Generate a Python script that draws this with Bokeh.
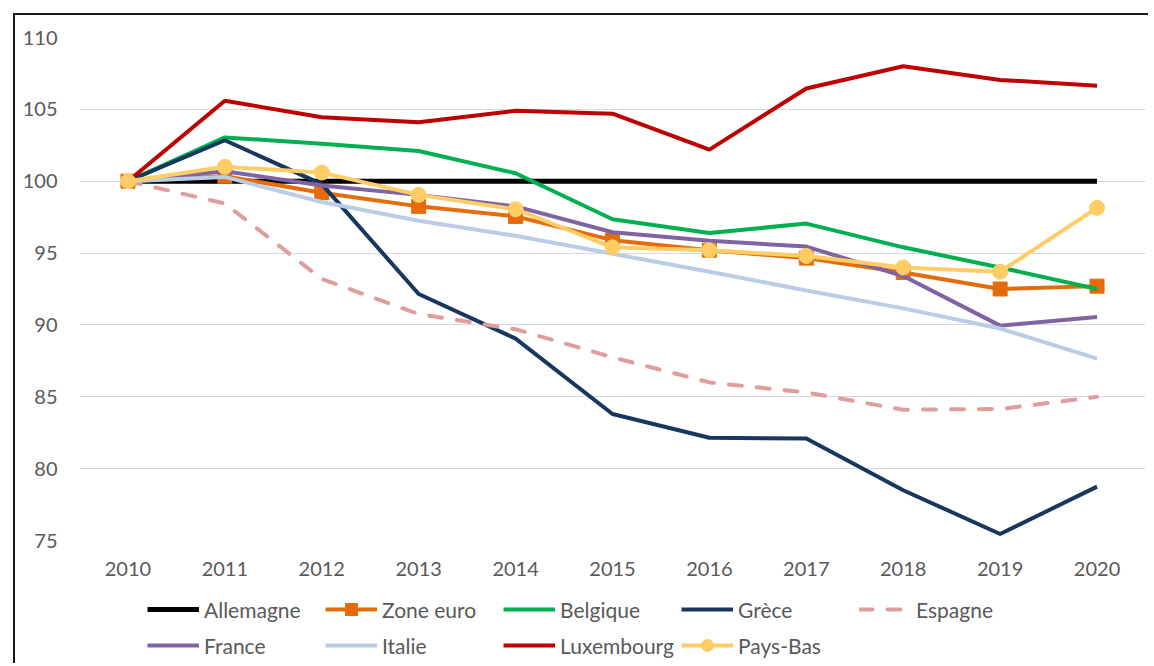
from bokeh.plotting import figure
from bokeh.models import Legend, LegendItem, FixedTicker
from bokeh.layouts import column
from bokeh.embed import file_html
from bokeh.resources import INLINE

years = ["2010", "2011", "2012", "2013", "2014", "2015", "2016", "2017", "2018", "2019", "2020"]

allemagne = [100, 100, 100, 100, 100, 100, 100, 100, 100, 100, 100]
zone_euro = [100, 100.35, 99.2, 98.25, 97.55, 95.9, 95.2, 94.65, 93.65, 92.5, 92.7]
belgique = [100, 103.05, 102.6, 102.1, 100.55, 97.35, 96.4, 97.05, 95.4, 94.0, 92.5]
grece = [100, 102.85, 99.8, 92.15, 89.05, 83.8, 82.15, 82.1, 78.5, 75.45, 78.75]
espagne = [100, 98.45, 93.2, 90.75, 89.7, 87.75, 86.0, 85.3, 84.1, 84.15, 85.0]
france = [100, 100.7, 99.7, 99.05, 98.25, 96.45, 95.85, 95.45, 93.4, 89.95, 90.55]
italie = [100, 100.3, 98.55, 97.25, 96.2, 94.95, 93.7, 92.4, 91.15, 89.75, 87.65]
luxembourg = [100, 105.6, 104.45, 104.1, 104.9, 104.7, 102.2, 106.45, 108.0, 107.05, 106.65]
pays_bas = [100, 101.0, 100.6, 99.05, 98.05, 95.4, 95.2, 94.8, 94.0, 93.7, 98.15]

y_ticks = [75, 80, 85, 90, 95, 100, 105, 110]

FONT = "Lato"
TXT = "#595959"
FRAME = "#1a1a1a"

# (label, values, colour, width, dash, marker, marker size)
series = [
    ("Allemagne", allemagne, "#000000", 5, "solid", None, 0),
    ("Zone euro", zone_euro, "#E46C0A", 4, "solid", "square", 14),
    ("Belgique", belgique, "#00B050", 4, "solid", None, 0),
    ("Grèce", grece, "#17375E", 4, "solid", None, 0),
    ("Espagne", espagne, "#DF9E9E", 4, "13 15", None, 0),
    ("France", france, "#8064A2", 4, "solid", None, 0),
    ("Italie", italie, "#B9CDE5", 4, "solid", None, 0),
    ("Luxembourg", luxembourg, "#C00000", 4, "solid", None, 0),
    ("Pays-Bas", pays_bas, "#FFCC66", 4, "solid", "circle", 15),
]

p = figure(
    x_range=years, y_range=(75, 110),
    width=1148, height=589,
    output_backend="svg", toolbar_location=None,
    min_border_left=79, min_border_right=3, min_border_top=37, min_border_bottom=49,
    background_fill_color="white", border_fill_color=None,
    styles={"box-shadow": f"inset 13px 13px 0 0 #ffffff, inset 15px 15px 0 0 {FRAME}"},
)
p.outline_line_color = None
p.xgrid.grid_line_color = None
p.ygrid.grid_line_color = "#D9D9D9"
p.ygrid.grid_line_width = 1
p.yaxis.ticker = FixedTicker(ticks=y_ticks)
for ax in (p.xaxis, p.yaxis):
    ax.axis_line_color = None
    ax.major_tick_line_color = None
    ax.minor_tick_line_color = None
    ax.major_label_text_font = FONT
    ax.major_label_text_font_size = "20px"
    ax.major_label_text_color = TXT
p.xaxis.major_label_standoff = 15
p.yaxis.major_label_standoff = 16

# legend strip below the chart (own canvas, so the legend is not clipped)
lg = figure(
    x_range=years, y_range=(75, 110),
    width=1148, height=74,
    output_backend="svg", toolbar_location=None,
    x_axis_location=None, y_axis_location=None,
    min_border=0, min_border_left=0, min_border_right=0, min_border_top=0, min_border_bottom=0,
    background_fill_color=None, border_fill_color=None,
    styles={"box-shadow": f"inset 13px 0 0 0 #ffffff, inset 15px 0 0 0 {FRAME}"},
)
lg.outline_line_color = None
lg.grid.grid_line_color = None

items = []
for label, vals, col, w, dash, marker, msize in series:
    rs = []
    for fig, vis in ((p, True), (lg, False)):
        r = fig.line(years, vals, line_color=col, line_width=w, line_dash=dash,
                     line_cap="round" if dash != "solid" else "butt", visible=vis)
        group = [r]
        if marker:
            m = fig.scatter(years, vals, marker=marker, size=msize,
                            fill_color=col, line_color=col, visible=vis)
            group.append(m)
        if fig is lg:
            rs = group
    items.append(LegendItem(label=label, renderers=rs))


def make_legend(its, y):
    return Legend(
        items=its, orientation="horizontal",
        location=(68, y),
        glyph_width=52, glyph_height=30, label_height=30, label_width=115,
        label_standoff=5, spacing=6, padding=0, margin=0,
        border_line_color=None, background_fill_alpha=0,
        label_text_font=FONT, label_text_font_size="21px", label_text_color=TXT,
    )


lg.add_layout(make_legend(items[:5], 39))
lg.add_layout(make_legend(items[5:], 3))

layout = column(p, lg, spacing=0)
open("out.html", "w").write(file_html(layout, INLINE))
